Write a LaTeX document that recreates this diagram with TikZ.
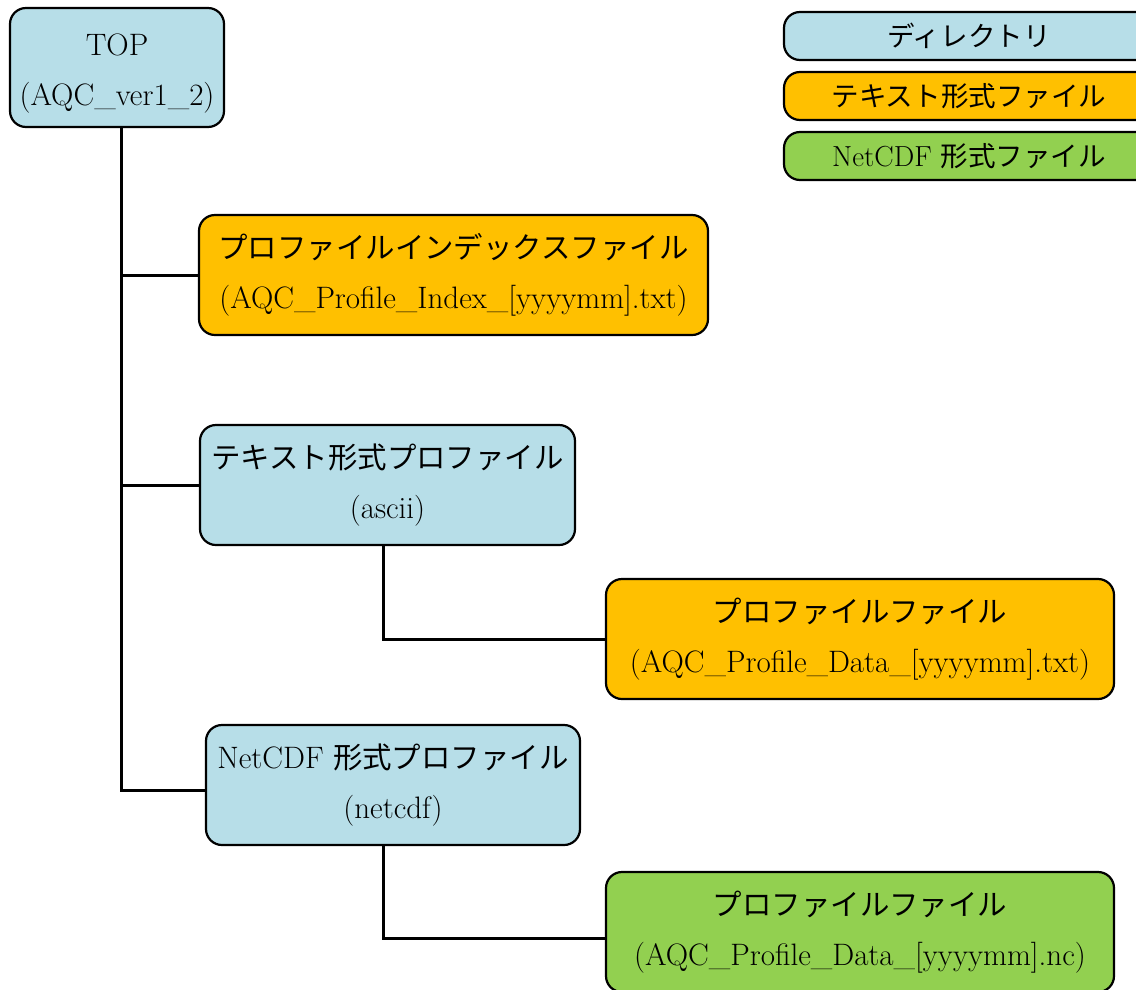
\documentclass[tikz,border=0pt]{standalone}
\usepackage{fontspec}
\newfontfamily\cjk{Noto Sans CJK JP}[Scale=0.95]
\definecolor{dirblue}{HTML}{B7DEE8}
\definecolor{txtorange}{HTML}{FFC000}
\definecolor{ncgreen}{HTML}{92D050}
\tikzset{
  box/.style={draw=black, line width=2.2pt, rounded corners=16pt, inner sep=0pt, align=center, font=\fontsize{31}{50}\selectfont},
  dirbox/.style={box, fill=dirblue},
  txtbox/.style={box, fill=txtorange},
  ncbox/.style={box, fill=ncgreen},
  lgfont/.style={font=\fontsize{29}{40}\selectfont},
  conn/.style={draw=black, line width=3pt},
}
\begin{document}
\begin{tikzpicture}[x=1pt,y=-1pt]
\useasboundingbox (0,0) rectangle (1136,989);
\clip (0,0) rectangle (1136,989);
% legend
\node[dirbox, lgfont, minimum width=370pt, minimum height=48pt] (lgdir) at (969,36) {{\cjk ディレクトリ}};
\node[txtbox, lgfont, minimum width=370pt, minimum height=48pt] (lgtxt) at (969,96) {{\cjk テキスト形式ファイル}};
\node[ncbox, lgfont, minimum width=370pt, minimum height=48pt] (lgnc) at (969,156) {NetCDF {\cjk 形式ファイル}};
% tree
\node[dirbox, minimum width=214pt, minimum height=119pt] (top) at (117,67.5) {\rule{0pt}{34pt}TOP\\(AQC\_ver1\_2)};
\node[txtbox, minimum width=509pt, minimum height=120pt] (index) at (453.5,275) {{\cjk プロファイルインデックスファイル}\\(AQC\_Profile\_Index\_[yyyymm].txt)};
\node[dirbox, minimum width=375pt, minimum height=120pt] (ascii) at (387.5,485) {{\cjk テキスト形式プロファイル}\\(ascii)};
\node[txtbox, minimum width=508pt, minimum height=120pt] (proftxt) at (860,639) {{\cjk プロファイルファイル}\\(AQC\_Profile\_Data\_[yyyymm].txt)};
\node[dirbox, minimum width=374pt, minimum height=120pt] (netcdf) at (393,785) {NetCDF {\cjk 形式プロファイル}\\(netcdf)};
\node[ncbox, minimum width=508pt, minimum height=120pt] (profnc) at (860,932) {{\cjk プロファイルファイル}\\(AQC\_Profile\_Data\_[yyyymm].nc)};
% connectors
\coordinate (trunk) at (121,127);
\draw[conn] (trunk) |- ([yshift=-5pt]netcdf.west);
\draw[conn] (index.west) -- (index.west -| trunk);
\draw[conn] (ascii.west) -- (ascii.west -| trunk);
\draw[conn] ([xshift=-4.5pt]ascii.south) |- (proftxt.west);
\draw[conn] ([xshift=-10pt]netcdf.south) |- ([yshift=-6pt]profnc.west);
\end{tikzpicture}
\end{document}
